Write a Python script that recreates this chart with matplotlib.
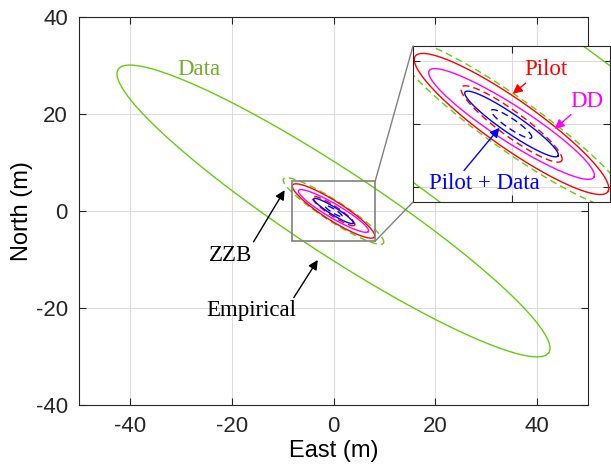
import numpy as np
import matplotlib
matplotlib.use('Agg')
import matplotlib.pyplot as plt
from matplotlib.patches import Rectangle, ConnectionPatch

plt.rcParams['axes.unicode_minus'] = False

# error ellipses: semi-major, semi-minor (m), orientation (deg)
names = ['Data', 'Data ZZB', 'Pilot', 'Pilot ZZB', 'DD', 'Pilot + Data', 'Pilot + Data ZZB']
semi_major = [51.4, 11.85, 9.66, 5.1, 8.06, 4.63, 2.0]
semi_minor = [8.5, 2.1, 1.93, 1.0, 1.42, 0.76, 0.4]
angle_deg = [-34.7, -34.1, -33.8, -35.0, -31.7, -33.2, -33.0]

x_ticks = [-40, -20, 0, 20, 40]
y_ticks = [-40, -20, 0, 20, 40]
zoom_xlim = (-8.2, 8.2)
zoom_ylim = (-6.2, 6.2)

green = '#66cc11'
styles = {
    'Data': dict(color=green, ls='-'),
    'Data ZZB': dict(color=green, ls=(0, (5, 3))),
    'Pilot': dict(color='red', ls='-'),
    'Pilot ZZB': dict(color='red', ls=(0, (5, 3))),
    'DD': dict(color='magenta', ls='-'),
    'Pilot + Data': dict(color='blue', ls='-'),
    'Pilot + Data ZZB': dict(color='blue', ls=(0, (5, 3))),
}


def ellipse_xy(a, b, ang):
    t = np.linspace(0, 2 * np.pi, 400)
    th = np.deg2rad(ang)
    x = a * np.cos(t) * np.cos(th) - b * np.sin(t) * np.sin(th)
    y = a * np.cos(t) * np.sin(th) + b * np.sin(t) * np.cos(th)
    return x, y


serif = 'Liberation Serif'
fig = plt.figure(figsize=(6.11, 4.73), dpi=100)
ax = fig.add_axes([0.1293, 0.1438, 0.8331, 0.8203])
axin = fig.add_axes([0.676, 0.573, 0.3224, 0.3298])

for a_ in (ax, axin):
    for n, a, b, ang in zip(names, semi_major, semi_minor, angle_deg):
        x, y = ellipse_xy(a, b, ang)
        a_.plot(x, y, lw=1.0, **styles[n])
    a_.grid(True, color='#dcdcdc', lw=0.8)
    a_.set_axisbelow(True)
    a_.tick_params(direction='in', top=True, right=True, colors='#262626',
                   length=5, width=0.8)
    for s in a_.spines.values():
        s.set_color('#262626')
        s.set_linewidth(0.8)

ax.set_xticks(x_ticks)
ax.set_yticks(y_ticks)
ax.set_xlim(-50, 50)
ax.set_ylim(-40, 40)
ax.tick_params(labelsize=16, pad=8)
for lab in ax.get_xticklabels() + ax.get_yticklabels():
    lab.set_family('Liberation Sans')
ax.set_xlabel('East (m)', fontsize=17, family='Liberation Sans', labelpad=2)
ax.set_ylabel('North (m)', fontsize=17, family='Liberation Sans', labelpad=2)

# ticks first, limits after (set_xticks would widen the view)
axin.set_xticks([-10, 0, 10])
axin.set_yticks([-5, 0, 5])
axin.set_xticklabels([])
axin.set_yticklabels([])
axin.set_xlim(*zoom_xlim)
axin.set_ylim(*zoom_ylim)
axin.set_facecolor('white')

# zoom box and connectors
ax.add_patch(Rectangle((zoom_xlim[0], zoom_ylim[0]), zoom_xlim[1] - zoom_xlim[0],
                       zoom_ylim[1] - zoom_ylim[0], fill=False, ec='#808080', lw=1.2, zorder=5))
for yb, yi in ((zoom_ylim[1], 1), (zoom_ylim[0], 0)):
    cp = ConnectionPatch(xyA=(zoom_xlim[1], yb), coordsA=ax.transData,
                         xyB=(0, yi), coordsB=axin.transAxes, color='#808080', lw=1.0)
    fig.add_artist(cp)

arrow = dict(arrowstyle='-|>', lw=1.0, mutation_scale=14, shrinkA=0, shrinkB=0)
ax.text(-26.4, 29.1, 'Data', color='#77ac30', fontsize=16.5, family=serif,
        ha='center', va='center')
ax.annotate('ZZB', xy=(-9.6, 4.3), xytext=(-20.3, -9.1), fontsize=16.5, family=serif,
            ha='center', va='center', arrowprops=dict(arrow, color='black',
                                                      relpos=(1.0, 1.0)))
ax.annotate('Empirical', xy=(-3.1, -10.1), xytext=(-16.1, -20.6), fontsize=16.5,
            family=serif, ha='center', va='center',
            arrowprops=dict(arrow, color='black', relpos=(0.95, 1.0)))

axin.annotate('Pilot', xy=(0.1, 2.4), xytext=(2.9, 4.3), color='red', fontsize=16.5,
              family=serif, ha='center', va='center', annotation_clip=False,
              arrowprops=dict(arrow, color='red', relpos=(0.1, 0.0)))
axin.annotate('DD', xy=(3.6, -0.4), xytext=(6.3, 1.8), color='magenta', fontsize=16.5,
              family=serif, ha='center', va='center', annotation_clip=False,
              arrowprops=dict(arrow, color='magenta', relpos=(0.1, 0.0)))
axin.annotate('Pilot + Data', xy=(-1.0, -0.3), xytext=(-2.3, -4.75), color='blue',
              fontsize=16.5, family=serif, ha='center', va='center',
              annotation_clip=False,
              arrowprops=dict(arrow, color='blue', relpos=(0.3, 1.0)))

fig.savefig('out.png', dpi=100)
